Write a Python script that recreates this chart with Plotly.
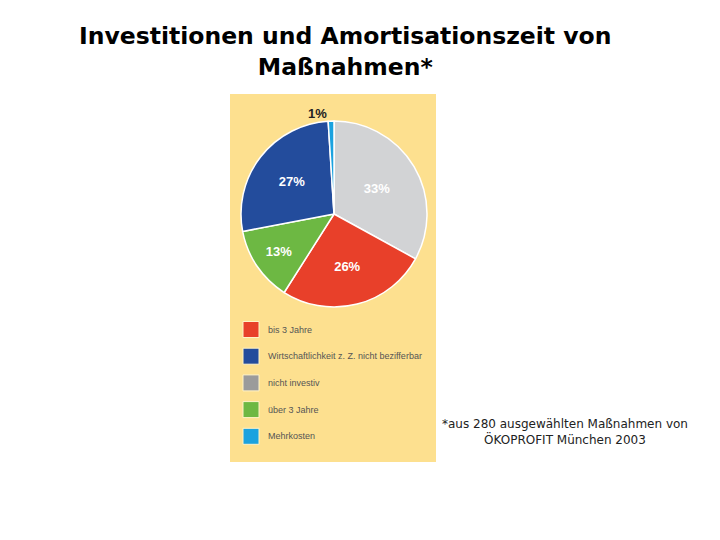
import plotly.graph_objects as go

# Data (clockwise from 12 o'clock)
labels = ["nicht investiv", "bis 3 Jahre", "über 3 Jahre",
          "Wirtschaftlichkeit z. Z. nicht bezifferbar", "Mehrkosten"]
values = [33, 26, 13, 27, 1]
pie_colors = ["#D2D3D5", "#E8402A", "#6DB843", "#234C9C", "#1BA2DF"]

# Legend order as shown in the reference
legend_labels = ["bis 3 Jahre", "Wirtschaftlichkeit z. Z. nicht bezifferbar",
                 "nicht investiv", "über 3 Jahre", "Mehrkosten"]
legend_colors = ["#E8402A", "#234C9C", "#9B9B9B", "#6DB843", "#1BA2DF"]

W, H = 720, 540

fig = go.Figure()

cx, cy, r = 334, 214, 93
fig.add_trace(go.Pie(
    labels=labels, values=values, sort=False, direction="clockwise", rotation=0,
    marker=dict(colors=pie_colors, line=dict(color="white", width=1.5)),
    texttemplate="<b>%{value}%</b>",
    textposition=["inside", "inside", "inside", "inside", "outside"],
    insidetextorientation="horizontal",
    insidetextfont=dict(color="white", size=13, family="Liberation Sans"),
    outsidetextfont=dict(color="#222222", size=13, family="Liberation Sans"),
    showlegend=False, hoverinfo="label+value",
    domain=dict(x=[(cx - r) / W, (cx + r) / W], y=[(H - cy - r) / H, (H - cy + r) / H]),
))

shapes = [dict(type="rect", xref="paper", yref="paper",
               x0=230 / W, x1=436 / W, y0=(H - 462) / H, y1=(H - 94) / H,
               fillcolor="#FDE08F", line=dict(width=0), layer="below")]
annotations = []
for i, (lab, col) in enumerate(zip(legend_labels, legend_colors)):
    yc = 329.5 + i * 26.7
    shapes.append(dict(type="rect", xref="paper", yref="paper",
                       x0=243 / W, x1=259 / W, y0=(H - yc - 8) / H, y1=(H - yc + 8) / H,
                       fillcolor=col, line=dict(color="#FFF3C8", width=1)))
    annotations.append(dict(xref="paper", yref="paper", x=266 / W, y=(H - yc) / H,
                            xanchor="left", yanchor="middle", showarrow=False,
                            text=lab, font=dict(family="Liberation Sans", size=9, color="#555555")))

annotations.append(dict(xref="paper", yref="paper", x=345 / W, y=(H - 51) / H,
                        xanchor="center", yanchor="middle", showarrow=False,
                        text="<b>Investitionen und Amortisationszeit von<br>Maßnahmen*</b>",
                        font=dict(family="DejaVu Sans", size=23.5, color="black")))
annotations.append(dict(xref="paper", yref="paper", x=565 / W, y=(H - 432) / H,
                        xanchor="center", yanchor="middle", showarrow=False,
                        text="*aus 280 ausgewählten Maßnahmen von<br>ÖKOPROFIT München 2003",
                        font=dict(family="DejaVu Sans", size=12, color="#222222")))

fig.update_layout(
    width=W, height=H, margin=dict(l=0, r=0, t=0, b=0),
    paper_bgcolor="white", plot_bgcolor="white",
    shapes=shapes, annotations=annotations, showlegend=False,
)

fig.write_html("out.html", config={"displayModeBar": False},
               post_script="document.body.style.margin='0';")
